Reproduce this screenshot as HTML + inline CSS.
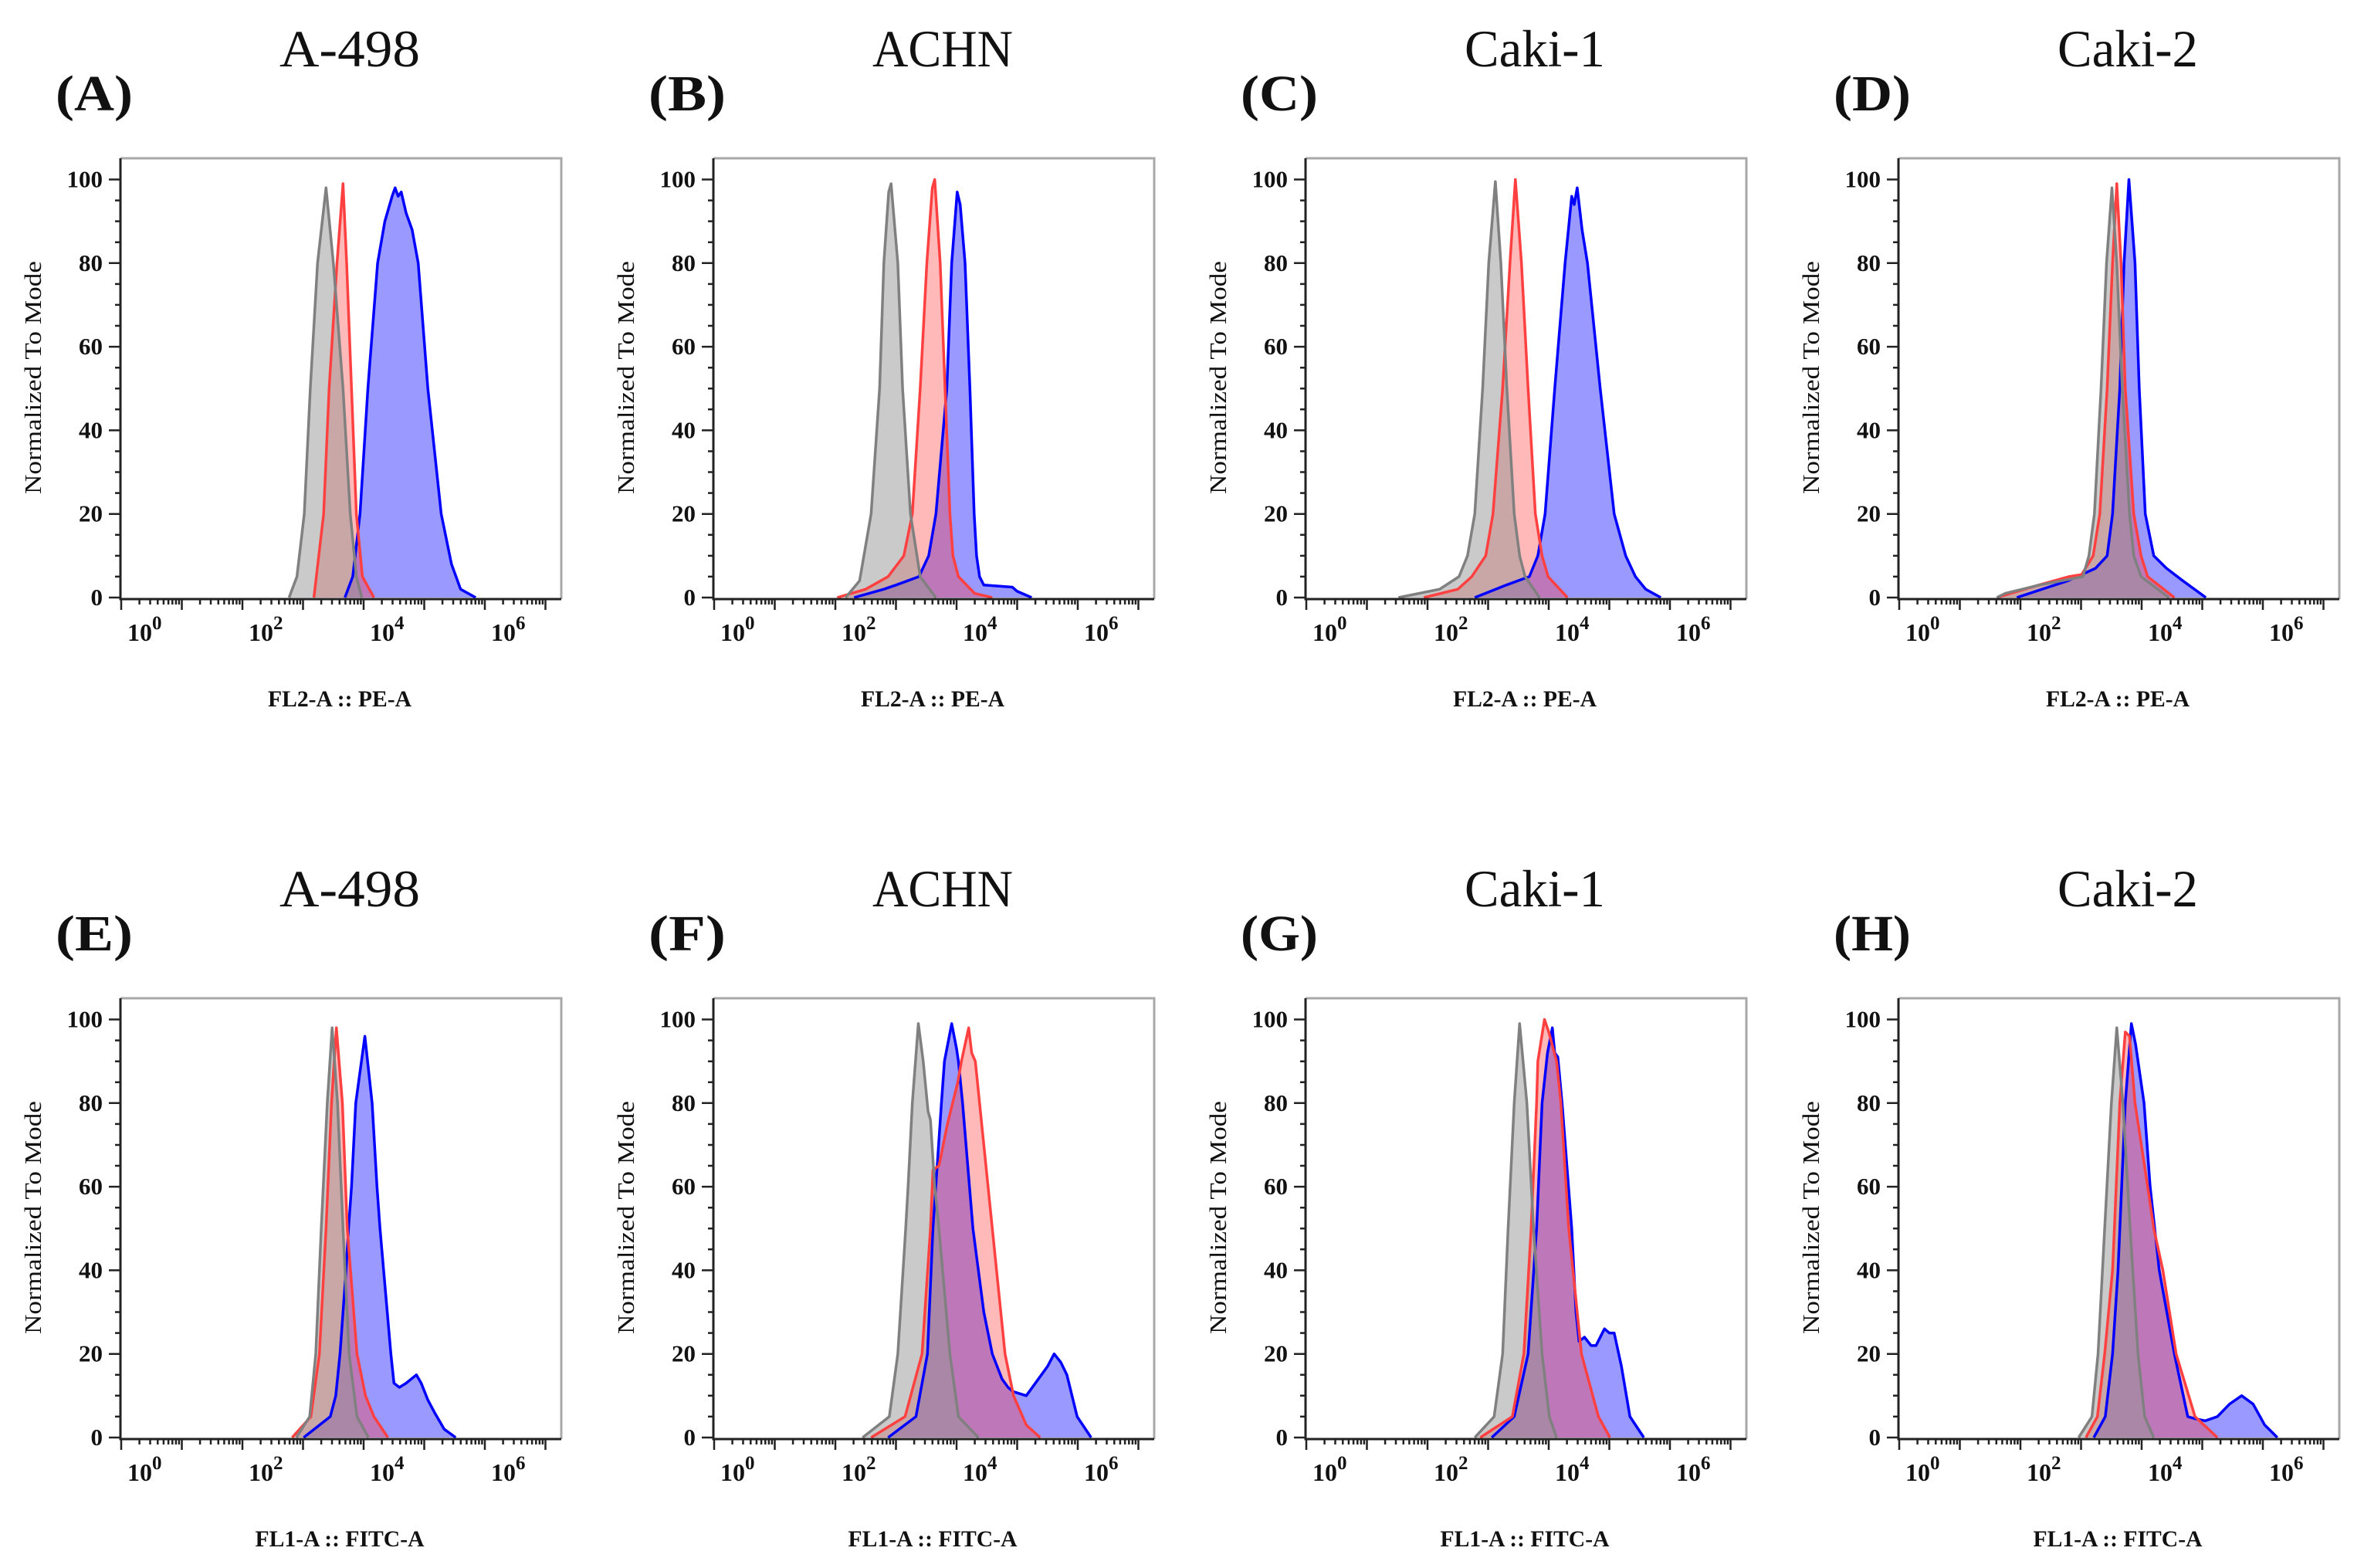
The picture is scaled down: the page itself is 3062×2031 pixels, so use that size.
<!DOCTYPE html>
<html><head><meta charset="utf-8"><title>Flow cytometry histograms</title>
<style>
html,body{margin:0;padding:0;background:#fff;}
svg{display:block;}
text{font-family:"Liberation Serif",serif;fill:#111;}
</style></head>
<body>
<svg id="fig" xmlns="http://www.w3.org/2000/svg" width="3062" height="2031" viewBox="0 0 3062 2031"></svg>
<script>
// ---- data (x in log10 decades, y in % of mode) ----
const yTickValues=[0,20,40,60,80,100];
const xTickDecades=[0,2,4,6];
const panelLetters=["A","B","C","D","E","F","G","H"];
const panelTitles=["A-498","ACHN","Caki-1","Caki-2","A-498","ACHN","Caki-1","Caki-2"];
const xAxisTitles=["FL2-A :: PE-A","FL1-A :: FITC-A"];

const A_grayX=[2.77,2.9,3.02,3.12,3.24,3.38,3.50,3.66,3.78,3.88,3.97];
const A_grayY=[0,5,20,50,80,98,80,50,20,5,0];
const A_redX=[3.18,3.34,3.43,3.56,3.66,3.72,3.80,3.88,3.98,4.17];
const A_redY=[0,20,50,80,99,80,50,20,5,0];
const A_blueX=[3.69,3.82,3.94,4.07,4.23,4.35,4.47,4.52,4.57,4.62,4.70,4.80,4.90,5.06,5.28,5.45,5.60,5.85];
const A_blueY=[0,5,20,50,80,90,96,98,96,97,92,88,80,50,20,8,2,0];

const B_grayX=[2.17,2.4,2.59,2.73,2.80,2.88,2.92,3.03,3.11,3.24,3.40,3.66];
const B_grayY=[0,4,20,50,80,97,99,80,50,20,5,0];
const B_redX=[2.03,2.5,2.87,3.13,3.27,3.40,3.51,3.60,3.64,3.73,3.81,3.89,3.94,4.03,4.3,4.59];
const B_redY=[0,2,5,10,20,50,80,98,100,80,50,20,10,5,1,0];
const B_blueX=[2.31,2.8,3.0,3.38,3.54,3.66,3.84,3.92,4.01,4.06,4.14,4.22,4.29,4.33,4.38,4.45,4.92,5.0,5.24];
const B_blueY=[0,2,3,5,10,20,50,80,97,94,80,50,20,10,5,3,2.5,1.5,0];

const C_grayX=[1.52,2.2,2.52,2.66,2.78,2.91,3.01,3.12,3.21,3.31,3.43,3.52,3.61,3.85];
const C_grayY=[0,2,5,10,20,50,80,99.5,80,50,20,10,5,0];
const C_redX=[1.94,2.5,2.73,2.96,3.08,3.24,3.36,3.45,3.55,3.66,3.78,3.89,3.99,4.31];
const C_redY=[0,2,5,10,20,50,80,100,80,50,20,10,5,0];
const C_blueX=[2.78,3.3,3.68,3.82,3.94,4.10,4.27,4.38,4.42,4.47,4.55,4.64,4.85,5.08,5.27,5.43,5.6,5.85];
const C_blueY=[0,3,5,10,20,50,80,96,94,98,88,80,50,20,10,5,2,0];

const D_grayX=[1.61,1.75,2.31,3.03,3.13,3.22,3.33,3.42,3.51,3.59,3.68,3.80,3.87,3.99,4.45];
const D_grayY=[0,1,3,5,10,20,50,80,98,80,50,20,10,5,0];
const D_redX=[1.61,2.3,2.8,3.01,3.20,3.31,3.43,3.52,3.59,3.66,3.73,3.87,3.99,4.10,4.54];
const D_redY=[0,3,5,5.5,10,20,50,80,99,80,50,20,10,5,0];
const D_blueX=[1.94,2.78,3.24,3.43,3.52,3.64,3.71,3.79,3.89,3.96,4.06,4.20,4.41,4.68,5.06];
const D_blueY=[0,4,7,10,20,50,80,100,80,50,20,10,7,4,0];

const E_grayX=[2.89,3.11,3.21,3.30,3.40,3.48,3.57,3.66,3.76,3.89,4.08];
const E_grayY=[0,5,20,50,80,98,80,50,20,5,0];
const E_redX=[2.82,3.13,3.27,3.38,3.47,3.55,3.65,3.73,3.89,4.03,4.17,4.40];
const E_redY=[0,5,20,50,80,98,80,50,20,10,5,0];
const E_blueX=[3.01,3.45,3.54,3.61,3.71,3.75,3.80,3.87,4.02,4.14,4.22,4.27,4.33,4.45,4.50,4.59,4.70,4.87,4.95,5.06,5.17,5.33,5.52];
const E_blueY=[0,5,10,20,40,50,60,80,96,80,60,50,40,20,13,12,13,15,13,9,6,2,0];

const F_grayX=[2.45,2.89,3.03,3.16,3.20,3.27,3.37,3.45,3.53,3.57,3.64,3.71,3.89,4.03,4.36];
const F_grayY=[0,5,20,50,60,80,99,90,78,76,60,50,20,5,0];
const F_redX=[2.59,3.15,3.43,3.57,3.61,3.71,3.85,4.02,4.08,4.20,4.25,4.31,4.38,4.59,4.80,4.94,5.15,5.38];
const F_redY=[0,5,20,50,64,65,75,85,90,98,92,90,80,50,20,10,3,0];
const F_blueX=[2.87,3.33,3.52,3.61,3.75,3.80,3.92,4.0,4.03,4.10,4.27,4.45,4.59,4.75,4.85,4.93,5.15,5.35,5.5,5.61,5.72,5.82,5.99,6.22];
const F_blueY=[0,5,20,50,80,90,99,93,90,80,50,30,20,14,12,11,10,14,17,20,18,15,5,0];

const G_grayX=[2.78,3.10,3.24,3.33,3.43,3.52,3.64,3.75,3.89,4.01,4.13];
const G_grayY=[0,5,20,50,80,99,80,50,20,5,0];
const G_redX=[2.87,3.40,3.59,3.71,3.80,3.82,3.93,4.0,4.13,4.20,4.33,4.54,4.82,5.01];
const G_redY=[0,5,20,50,80,90,100,97,90,80,50,20,5,0];
const G_blueX=[3.06,3.43,3.66,3.80,3.89,3.98,4.06,4.10,4.15,4.22,4.38,4.45,4.50,4.59,4.70,4.78,4.92,5.0,5.08,5.20,5.34,5.57];
const G_blueY=[0,5,20,50,80,92,98,92,91,80,50,30,23,24,22,22,26,25,25,17,5,0];

const H_grayX=[2.96,3.18,3.28,3.39,3.50,3.59,3.69,3.81,3.94,4.05,4.20];
const H_grayY=[0,5,20,50,80,98,80,50,20,5,0];
const H_redX=[3.08,3.27,3.39,3.52,3.55,3.58,3.64,3.73,3.80,3.89,4.10,4.20,4.35,4.57,4.88,5.25];
const H_redY=[0,5,20,40,50,60,80,97,96,80,60,50,40,20,5,0];
const H_blueX=[3.21,3.40,3.52,3.61,3.67,3.73,3.83,3.90,4.04,4.14,4.29,4.54,4.76,4.88,5.05,5.25,5.45,5.65,5.84,6.03,6.24];
const H_blueY=[0,5,20,40,60,80,99,94,80,60,40,20,5,4.5,4,5,8,10,8,3,0];

const panelSeries=[
 [[A_grayX,A_grayY],[A_redX,A_redY],[A_blueX,A_blueY]],
 [[B_grayX,B_grayY],[B_redX,B_redY],[B_blueX,B_blueY]],
 [[C_grayX,C_grayY],[C_redX,C_redY],[C_blueX,C_blueY]],
 [[D_grayX,D_grayY],[D_redX,D_redY],[D_blueX,D_blueY]],
 [[E_grayX,E_grayY],[E_redX,E_redY],[E_blueX,E_blueY]],
 [[F_grayX,F_grayY],[F_redX,F_redY],[F_blueX,F_blueY]],
 [[G_grayX,G_grayY],[G_redX,G_redY],[G_blueX,G_blueY]],
 [[H_grayX,H_grayY],[H_redX,H_redY],[H_blueX,H_blueY]]
];
const seriesNames=["isotype-control","red-histogram","blue-histogram"];

// ---- drawing ----
const NS="http://www.w3.org/2000/svg";
const svg=document.getElementById("fig");
const LEFTS=[156,924,1691,2459], TOPS=[205,1293], SIZE=571;
const XTITLE_LEN=[186,219];
const styles=[
 {fill:"rgb(150,150,150)",fo:0.5,stroke:"#808080"},
 {fill:"rgb(255,60,60)",fo:0.36,stroke:"#ff4040"},
 {fill:"rgb(60,60,255)",fo:0.52,stroke:"#0000ff"}
];
const FILL_ORDER=[2,1,0];
function el(tag,attrs,parent){const e=document.createElementNS(NS,tag);for(const k in attrs)e.setAttribute(k,attrs[k]);(parent||svg).appendChild(e);return e;}

panelLetters.forEach((letter,i)=>{
 const col=i%4,row=Math.floor(i/4);
 const left=LEFTS[col],top=TOPS[row],bottom=top+SIZE;
 const xs=d=>left+1+78.5*d;
 const ys=v=>top+569-5.415*v;
 const g=el("g",{});
 
 

 const t=el("text",{x:left+297,y:top-119,"text-anchor":"middle","font-size":68,textLength:182,lengthAdjust:"spacingAndGlyphs"},g);
 t.textContent=panelTitles[i];
 
 
 const lt=el("text",{x:left-84,y:top-62,"font-size":66,"font-weight":"bold",textLength:100,lengthAdjust:"spacingAndGlyphs"},g);
 lt.textContent="("+letter+")";
 
 

 const paths=panelSeries[i].map(([X,Y])=>{let d="";X.forEach((x,k)=>{d+=(k?"L":"M")+xs(x).toFixed(1)+","+ys(Y[k]).toFixed(1);});return d;});
 FILL_ORDER.forEach(s=>{
  const p=el("path",{d:paths[s]+"Z",fill:styles[s].fill,"fill-opacity":styles[s].fo,stroke:"none"},g);
  
  
 });
 FILL_ORDER.forEach(s=>{
  const p=el("path",{d:paths[s],fill:"none",stroke:styles[s].stroke,"stroke-width":3.5,"stroke-linejoin":"round"},g);
  
  
 });

 const fr=el("path",{d:`M${left},${top}H${left+SIZE}V${bottom}`,fill:"none",stroke:"#a8a8a8","stroke-width":3},g);
 
 
 const ax=el("path",{d:`M${left},${top}V${bottom}H${left+SIZE}`,fill:"none",stroke:"#222","stroke-width":3},g);
 
 

 let tk="";
 for(let v=0;v<=100;v+=5){const y=ys(v);tk+=`M${left-(v%20===0?15:7)},${y.toFixed(1)}H${left}`;}
 for(let dd=0;dd<=7;dd++){tk+=`M${xs(dd).toFixed(1)},${bottom}v14`;
  if(dd<7)for(let m=2;m<=9;m++){const x=xs(dd+Math.log10(m));tk+=`M${x.toFixed(1)},${bottom}v7`;}}
 const tp=el("path",{d:tk,stroke:"#222","stroke-width":2.5,fill:"none"},g);
 
 

 yTickValues.forEach(v=>{
  const tt=el("text",{x:left-23,y:ys(v)+10,"text-anchor":"end","font-size":31,"font-weight":"bold"},g);
  tt.textContent=String(v);
  
  
 });
 xTickDecades.forEach(dd=>{
  const tt=el("text",{x:xs(dd)+8,y:bottom+54,"font-size":32,"font-weight":"bold"},g);
  tt.textContent="10";
  const sup=el("tspan",{dy:-15,"font-size":25},tt);
  sup.textContent=String(dd);
  
  
 });

 const yl=el("text",{x:0,y:0,"text-anchor":"middle","font-size":31,textLength:302,lengthAdjust:"spacingAndGlyphs",transform:`translate(${left-103},${top+284}) rotate(-90)`},g);
 yl.textContent="Normalized To Mode";
 
 
 const xl=el("text",{x:left+284,y:bottom+139,"text-anchor":"middle","font-size":30,"font-weight":"bold",textLength:XTITLE_LEN[row],lengthAdjust:"spacingAndGlyphs"},g);
 xl.textContent=xAxisTitles[row];
 
 
});
</script>
</body></html>
